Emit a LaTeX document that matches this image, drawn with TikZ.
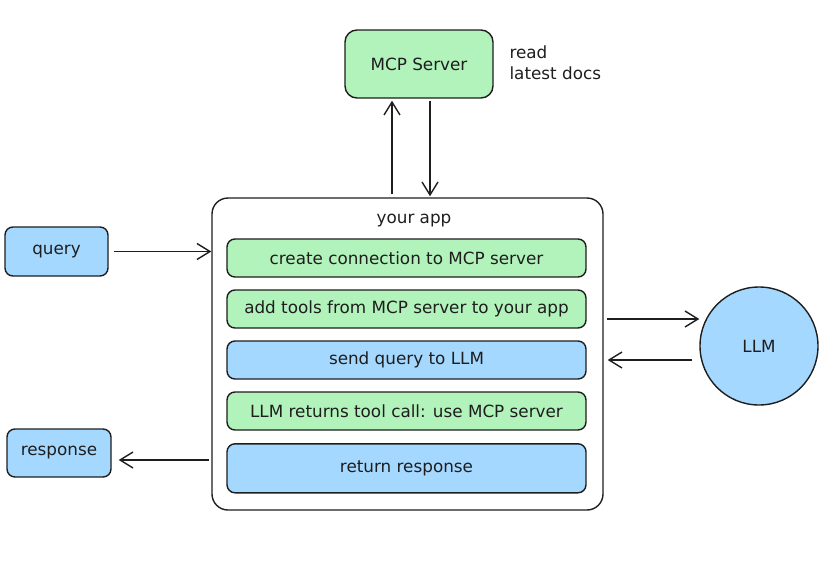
\documentclass[tikz,border=0pt]{standalone}
\usepackage{fontspec}
\setmainfont{DejaVu Sans}
\usetikzlibrary{arrows.meta,positioning}
\definecolor{boxgreen}{HTML}{B2F2BB}
\definecolor{boxblue}{HTML}{A5D8FF}
\definecolor{ink}{HTML}{1E1E1E}
\begin{document}
\begin{tikzpicture}[x=1pt,y=-1pt,
    txt/.style={font=\fontsize{16.8}{21}\selectfont,text=ink},
    box/.style={txt,draw=ink,line width=1.4pt,rounded corners=8pt},
    greenbox/.style={box,fill=boxgreen},
    bluebox/.style={box,fill=boxblue},
    row/.style={minimum width=359pt,minimum height=38pt},
    arr/.style={draw=ink,line width=1.4pt,-{Straight Barb[length=13pt,width=16pt]}},
    node distance=11.6pt]
    \useasboundingbox (0,0) rectangle (828,579);
    \node[greenbox,minimum width=148pt,minimum height=68pt,rounded corners=12pt] (mcp) at (419,64) {MCP Server};
    \node[txt,anchor=west,align=left] (docs) at (506,63) {read\\latest docs};
    \node[box,fill=white,minimum width=391pt,minimum height=312pt,rounded corners=16pt] (app) at (407.5,354) {};
    \node[txt] (title) at (414,221) {your app};
    \node[greenbox,row] (connect) at (406.5,258) {create connection to MCP server};
    \node[greenbox,row,below=of connect] (tools) {add tools from MCP server to your app};
    \node[bluebox,row,below=of tools] (send) {send query to LLM};
    \node[greenbox,row,below=of send] (call) {LLM returns tool call: use MCP server};
    \node[bluebox,row,minimum height=49pt,below=12.4pt of call] (ret) {return response};
    \node[bluebox,minimum width=103pt,minimum height=49pt] (query) at (56.5,251.5) {query};
    \node[bluebox,minimum width=104pt,minimum height=48pt] (response) at (59,453) {response};
    \node[txt,draw=ink,line width=1.4pt,fill=boxblue,circle,minimum size=118pt] (llm) at (759,346) {LLM};
    % arrows
    \draw[arr] ([shift={(-15.5pt,3pt)}]app.north) -- ([shift={(-27pt,-2pt)}]mcp.south);
    \draw[arr] ([shift={(11pt,-2pt)}]mcp.south) -- ([shift={(22.5pt,1pt)}]app.north);
    \draw[arr] ([xshift=5pt]query.east) -- (app.west |- query.east);
    \coordinate (resp-in) at ([yshift=-7pt]response.east);
    \draw[arr] ([xshift=-2pt]app.west |- resp-in) -- ([xshift=7pt]resp-in);
    \coordinate (llm-in) at ([yshift=27pt]llm.west);
    \draw[arr] ([xshift=3pt]app.east |- llm-in) -- (llm-in);
    \coordinate (llm-out) at ([shift={(-7pt,-14pt)}]llm.west);
    \draw[arr] (llm-out) -- ([xshift=4pt]app.east |- llm-out);
\end{tikzpicture}
\end{document}
